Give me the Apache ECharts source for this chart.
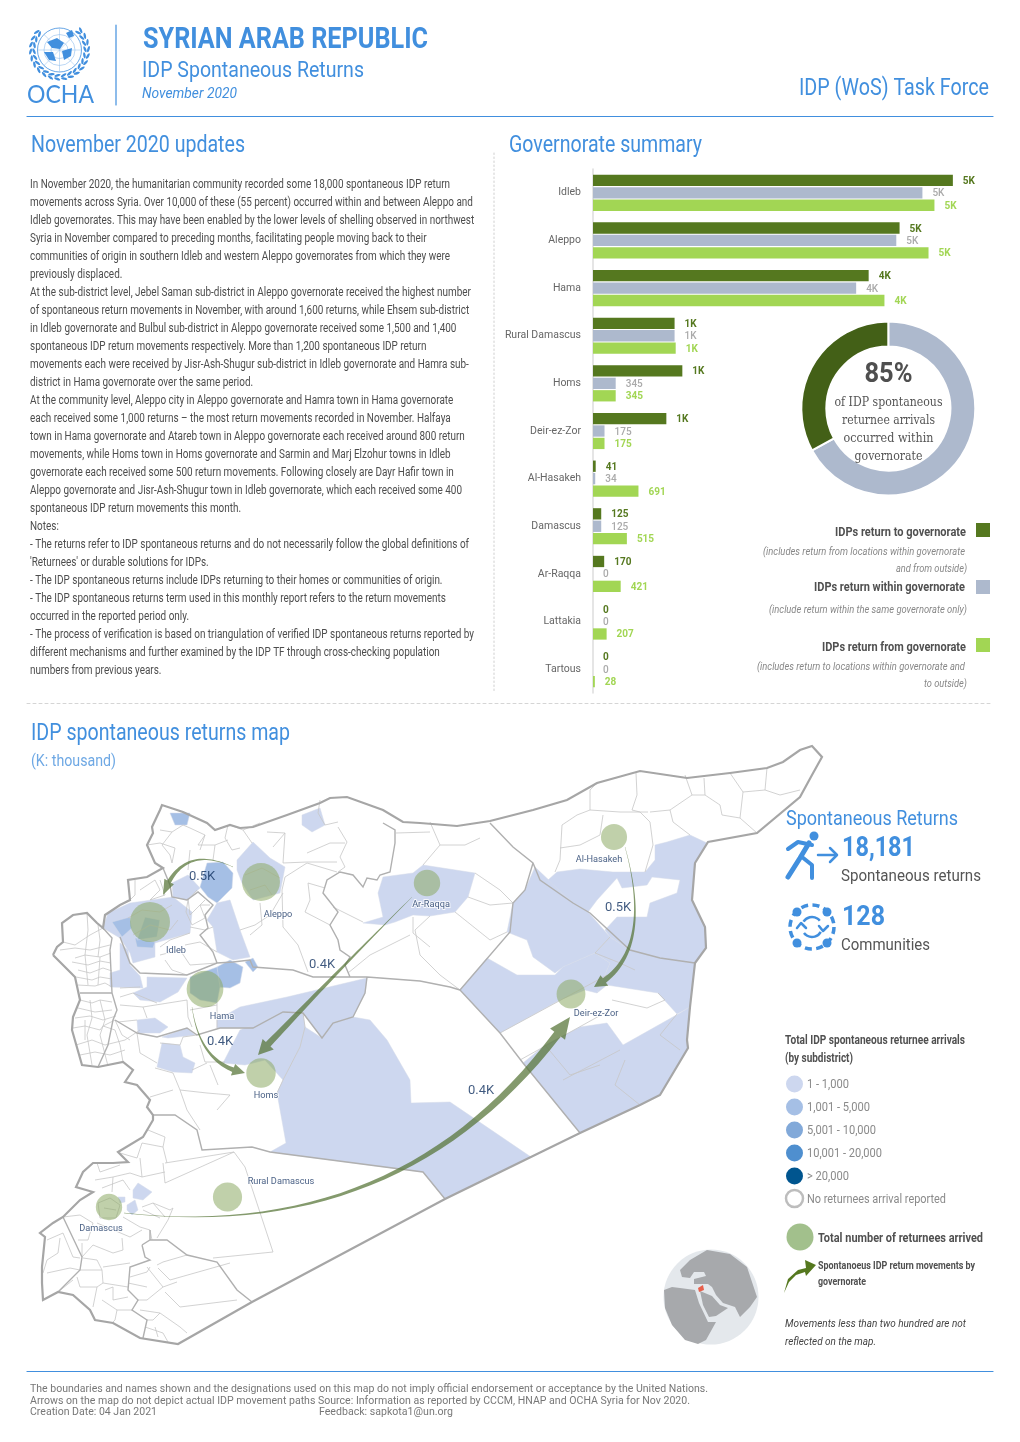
<!DOCTYPE html>
<html>
<head>
<meta charset="utf-8">
<title>IDP Spontaneous Returns</title>
<script src="https://cdn.jsdelivr.net/npm/echarts@6/dist/echarts.min.js"></script>
<style>
html, body { margin: 0; padding: 0; background: #fff; }
#page { width: 1020px; height: 1442px; }
</style>
</head>
<body>
<div id="page"></div>
<script>
// governorate summary
var governorates = ['Idleb', 'Aleppo', 'Hama', 'Rural Damascus', 'Homs', 'Deir-ez-Zor', 'Al-Hasakeh', 'Damascus', 'Ar-Raqqa', 'Lattakia', 'Tartous'];
var returnTo = [5470, 4660, 4190, 1240, 1358, 1115, 41, 125, 170, 0, 0];
var returnWithin = [5007, 4610, 4000, 1240, 345, 175, 34, 125, 0, 0, 0];
var returnFrom = [5190, 5100, 4430, 1257, 345, 175, 691, 515, 421, 207, 28];
var donutValues = [67, 33];

// map units are the pixels of the sheet
var govPoints = {
  'Idleb': [150, 922], 'Aleppo': [261, 882], 'Hama': [205, 989], 'Rural Damascus': [227.5, 1197], 'Homs': [261, 1073],
  'Deir-ez-Zor': [571, 994], 'Al-Hasakeh': [614, 837], 'Damascus': [109, 1207], 'Ar-Raqqa': [427, 883]
};
var govLabelPoints = {
  'Idleb': [176, 951], 'Aleppo': [278, 915], 'Hama': [222, 1017], 'Rural Damascus': [281, 1182], 'Homs': [266, 1096],
  'Deir-ez-Zor': [596, 1014], 'Al-Hasakeh': [599, 860], 'Damascus': [101, 1229], 'Ar-Raqqa': [431, 905]
};
// x0, y0, x1, y1, control x, control y, width at the head
var flowPaths = [
  [233, 867, 163, 895, 182, 843, 5],
  [412, 897, 258, 1055, 331, 978, 7],
  [192, 1007, 245, 1073, 200, 1065, 5.5],
  [625, 847, 594, 987, 655, 955, 6],
  [124, 1213, 570, 1017, 410, 1245, 8.5]
];
var flowValues = ['0.5K', '0.4K', '0.4K', '0.5K', '0.4K'];
var flowLabelPoints = [[202, 877], [322, 965], [220, 1042], [618, 908], [481, 1091]];

var countryOutline = [[53, 955], [57, 947], [63, 942], [62, 923], [73, 915], [87, 913], [97, 923], [103, 928], [105, 915], [120, 905], [130, 900], [128, 880], [147, 877], [163, 868], [155, 863], [147, 845], [153, 833], [152, 827], [160, 810], [162, 805], [183, 812], [207, 823], [215, 830], [230, 825], [240, 828], [253, 827], [287, 815], [320, 803], [330, 798], [347, 797], [383, 810], [403, 822], [420, 823], [457, 826], [490, 821], [533, 810], [567, 800], [597, 783], [640, 771], [687, 778], [730, 773], [767, 768], [783, 762], [800, 750], [812, 746], [822, 757], [812, 775], [800, 797], [757, 833], [708, 842], [695, 863], [692, 900], [705, 927], [706, 948], [695, 963], [690, 1007], [687, 1040], [688, 1048], [660, 1095], [640, 1105], [580, 1133], [445, 1199], [252, 1302], [178, 1344], [140, 1338], [113, 1323], [95, 1320], [90, 1310], [73, 1295], [58, 1292], [43, 1300], [42, 1283], [42, 1267], [45, 1237], [40, 1233], [53, 1223], [63, 1217], [80, 1200], [93, 1192], [76, 1187], [83, 1172], [93, 1163], [113, 1163], [128, 1162], [118, 1152], [143, 1137], [153, 1120], [153, 1115], [147, 1107], [150, 1100], [137, 1085], [125, 1082], [133, 1070], [123, 1062], [98, 1067], [82, 1065], [72, 1030], [73, 1017], [80, 1000], [75, 977], [60, 962], [53, 955]];

// subdistricts that reported arrivals: outline and estimated returns
var subdistrictShapes = [
  [[170, 813], [190, 813], [187, 825], [175, 825]],
  [[302, 815], [320, 808], [325, 825], [312, 832], [302, 825]],
  [[237, 860], [253, 842], [270, 858], [285, 867], [280, 893], [253, 900], [242, 883], [237, 870]],
  [[200, 887], [207, 863], [223, 862], [233, 873], [232, 888], [217, 903], [208, 897]],
  [[172, 883], [188, 875], [200, 888], [190, 897], [187, 900], [173, 897]],
  [[207, 920], [217, 903], [230, 900], [240, 930], [250, 957], [233, 960], [217, 952], [213, 927]],
  [[103, 928], [108, 913], [130, 903], [173, 897], [192, 912], [190, 933], [155, 943], [155, 957], [133, 963], [130, 953], [120, 938]],
  [[112, 922], [130, 917], [132, 928], [122, 937]],
  [[135, 938], [155, 942], [153, 948], [137, 947]],
  [[145, 917], [160, 920], [157, 937], [137, 940]],
  [[120, 943], [128, 950], [130, 965], [140, 976], [143, 988], [110, 987], [110, 973], [120, 970]],
  [[147, 977], [187, 978], [178, 992], [160, 1002], [140, 1000], [133, 993], [147, 987]],
  [[217, 967], [230, 960], [243, 967], [240, 983], [230, 988], [217, 987]],
  [[245, 962], [253, 958], [258, 967], [253, 972]],
  [[190, 977], [217, 967], [220, 987], [217, 1003], [200, 1000], [190, 993]],
  [[137, 1020], [155, 1018], [168, 1027], [160, 1033], [138, 1033]],
  [[162, 1037], [187, 1028], [195, 1035], [168, 1038]],
  [[162, 1043], [180, 1045], [183, 1057], [195, 1063], [192, 1073], [173, 1072], [157, 1067]],
  [[240, 1007], [287, 997], [367, 978], [365, 993], [353, 1017], [333, 1023], [322, 1038], [303, 1013], [283, 1012], [253, 1028], [217, 1028], [217, 1020]],
  [[322, 1038], [333, 1023], [353, 1017], [370, 1020], [387, 1040], [410, 1080], [411, 1103], [450, 1102], [531, 1157], [445, 1199], [423, 1172], [270, 1152], [286, 1143], [277, 1093], [283, 1080], [300, 1047], [305, 1027]],
  [[223, 1063], [240, 1030], [283, 1012], [303, 1013], [305, 1027], [300, 1047], [283, 1080], [265, 1060], [245, 1065]],
  [[363, 923], [383, 917], [378, 893], [383, 877], [413, 873], [423, 865], [475, 873], [468, 897], [455, 912], [430, 916], [413, 915], [395, 922], [385, 925]],
  [[535, 867], [573, 903], [588, 912], [610, 937], [595, 953], [563, 967], [555, 973], [533, 957], [527, 940], [507, 932], [513, 903], [525, 890]],
  [[487, 958], [517, 975], [555, 975], [563, 967], [595, 953], [610, 963], [607, 970], [597, 993], [585, 990], [560, 1000], [500, 1033], [460, 990]],
  [[610, 937], [630, 950], [660, 958], [695, 963], [690, 1007], [677, 1014], [658, 993], [607, 985], [597, 993], [607, 970], [610, 963], [595, 953]],
  [[548, 880], [557, 872], [580, 869], [613, 872], [645, 872], [655, 860], [655, 845], [667, 842], [690, 835], [707, 843], [695, 863], [692, 900], [705, 927], [706, 948], [695, 963], [660, 958], [630, 950], [610, 937], [605, 930], [617, 917], [647, 917], [650, 903], [677, 893], [680, 880], [652, 877], [647, 885], [622, 888], [617, 878], [597, 900], [588, 912], [573, 903]],
  [[680, 1013], [690, 1007], [687, 1040], [688, 1048], [660, 1095], [640, 1105], [580, 1133], [523, 1063], [545, 1045], [580, 1027], [607, 1023], [623, 1045]],
  [[133, 1190], [138, 1183], [152, 1192], [143, 1200], [133, 1198]],
  [[127, 1205], [135, 1200], [138, 1210], [132, 1215], [127, 1210]],
  [[118, 1197], [125, 1197], [125, 1202], [120, 1203]]
];
var subdistrictReturns = [1200, 300, 900, 1400, 500, 800, 700, 1300, 1200, 1600, 600, 500, 1500, 1100, 1700, 300, 200, 400, 700, 500, 350, 150, 400, 300, 250, 350, 200, 150, 120, 130];

var subdistrictLines = [
  // Lattakia and Tartous
  [[75, 958], [85, 955], [100, 957], [111, 953]], [[72, 962], [88, 965], [100, 961], [111, 963]], [[78, 970], [90, 973], [103, 968], [112, 971]],
  [[76, 977], [92, 980], [100, 977], [112, 979]], [[78, 985], [95, 986], [105, 983], [112, 987]], [[80, 1000], [92, 1003], [100, 1000], [112, 1002]],
  [[78, 1008], [95, 1012], [112, 1010]], [[75, 1018], [90, 1016], [103, 1020], [116, 1016]], [[73, 1028], [85, 1026], [100, 1030], [103, 1026], [115, 1030]],
  [[76, 1045], [92, 1040], [105, 1045], [125, 1040]], [[80, 1055], [95, 1052], [110, 1055], [125, 1050]], [[90, 1000], [92, 1018], [87, 1035], [92, 1065]],
  [[100, 1000], [105, 1020], [100, 1035], [108, 1066]], [[85, 1020], [85, 1040]], [[115, 1030], [120, 1045], [123, 1062]], [[103, 1026], [115, 1020], [122, 1035], [130, 1040]],
  [[125, 1040], [140, 1030]], [[63, 942], [75, 945], [90, 935], [103, 928]], [[87, 913], [88, 930], [85, 955]], [[98, 925], [100, 940], [98, 957]], [[60, 950], [75, 948], [90, 950], [110, 945]],
  [[85, 955], [88, 985]], [[100, 957], [98, 985]],
  // north west
  [[160, 830], [172, 832], [183, 825], [190, 828]], [[172, 832], [162, 845], [170, 855], [172, 863]], [[190, 828], [205, 835], [198, 845], [215, 845], [228, 840]],
  [[205, 835], [200, 850]], [[215, 845], [213, 860]], [[228, 825], [225, 838], [232, 850], [240, 848]], [[147, 845], [160, 843], [175, 848], [172, 863]], [[190, 850], [188, 870]],
  [[135, 880], [135, 895], [130, 900]], [[140, 890], [155, 880], [160, 890], [150, 900]], [[150, 900], [165, 895], [160, 880]], [[188, 898], [190, 915], [205, 900]],
  [[197, 890], [188, 900], [186, 912], [192, 925], [205, 918], [200, 905], [210, 905]], [[190, 927], [205, 930], [213, 927]], [[185, 945], [200, 942], [217, 952]],
  [[160, 955], [180, 950], [190, 965], [217, 963]], [[165, 960], [172, 970], [187, 975]], [[128, 918], [142, 910], [160, 912], [172, 905]], [[133, 935], [150, 925], [170, 930], [178, 920]],
  [[160, 947], [170, 940], [190, 933]], [[240, 930], [255, 925], [270, 915], [283, 893]], [[260, 903], [262, 925], [250, 935]], [[245, 875], [262, 868], [280, 878]], [[250, 890], [265, 885], [272, 895]],
  [[230, 825], [243, 830], [260, 823]], [[243, 830], [252, 843]], [[273, 847], [285, 833], [267, 832]], [[285, 833], [283, 863], [307, 862]], [[320, 800], [318, 813], [325, 825], [338, 822]],
  [[338, 827], [347, 842], [340, 857], [345, 867], [338, 872]], [[307, 853], [330, 843], [345, 843]], [[307, 862], [337, 862]], [[285, 877], [307, 863], [337, 872]],
  [[285, 877], [282, 890], [283, 927], [298, 945], [308, 972]], [[308, 883], [310, 900], [305, 912], [330, 925]], [[308, 883], [325, 888]], [[333, 907], [363, 922]], [[396, 833], [430, 832]], [[413, 917], [413, 933], [430, 947]],
  // Hama and Homs west
  [[120, 988], [140, 987]], [[120, 997], [133, 993], [157, 1003]], [[120, 1005], [143, 1007]], [[143, 1007], [187, 1000]], [[187, 1000], [188, 1017], [192, 1027]], [[118, 1022], [137, 1020]],
  [[143, 1007], [147, 1018]], [[217, 1003], [217, 1028]], [[190, 1010], [217, 1005]], [[137, 1033], [140, 1053], [157, 1063]], [[160, 1043], [180, 1045]], [[180, 1045], [183, 1037], [197, 1035]],
  [[192, 1070], [207, 1063]], [[173, 1073], [180, 1090], [207, 1093]], [[155, 1068], [173, 1073]], [[150, 1097], [173, 1090]], [[180, 1090], [187, 1110]], [[207, 1093], [230, 1095], [217, 1110]],
  [[187, 1110], [200, 1130]], [[210, 1065], [218, 1085]], [[200, 1045], [205, 1062], [225, 1062]], [[277, 1093], [283, 1080]],
  // Raqqa, Hasakeh, Deir-ez-Zor
  [[455, 912], [490, 940], [507, 932]], [[430, 916], [415, 930], [420, 955], [440, 975], [460, 990]], [[410, 935], [370, 955], [348, 973]], [[468, 897], [490, 905], [513, 903]],
  [[590, 790], [590, 810], [620, 812], [648, 812]], [[597, 783], [590, 790]], [[590, 810], [577, 815], [562, 825], [560, 860], [555, 872]],
  [[560, 848], [580, 845], [600, 835], [603, 815]], [[636, 773], [637, 795], [632, 810]], [[632, 810], [640, 812], [650, 822], [653, 845], [645, 872]],
  [[650, 812], [670, 810], [692, 795], [685, 775]], [[670, 810], [673, 822], [690, 835]], [[692, 795], [705, 795], [720, 805], [722, 815], [740, 818], [757, 833]],
  [[705, 795], [704, 778]], [[740, 818], [743, 792], [730, 773]], [[743, 792], [765, 790], [780, 795], [800, 790]], [[767, 768], [765, 790]],
  [[610, 937], [595, 953]], [[595, 953], [620, 963], [635, 970]], [[658, 993], [665, 1000], [647, 1008], [612, 1000]], [[500, 1033], [607, 975]], [[520, 1060], [610, 1010]],
  [[563, 1080], [620, 1050]], [[640, 1105], [615, 1085], [625, 1060]], [[677, 1014], [660, 1035], [680, 1050]], [[545, 1045], [570, 1075], [600, 1065]],
  [[423, 865], [440, 845], [430, 822]], [[475, 873], [500, 890], [513, 903]], [[440, 845], [465, 845], [480, 838]], [[303, 1013], [305, 1027], [300, 1047], [283, 1080]],
  // Damascus, Daraa, Sweida
  [[120, 1153], [137, 1158], [142, 1143]], [[142, 1143], [163, 1147], [167, 1163]], [[148, 1130], [165, 1137], [163, 1147]], [[165, 1163], [234, 1152]], [[163, 1163], [165, 1183]],
  [[140, 1158], [142, 1177], [165, 1172]], [[165, 1183], [234, 1152]], [[234, 1152], [245, 1167], [273, 1252]], [[273, 1252], [213, 1258]], [[97, 1163], [100, 1172], [120, 1165]],
  [[95, 1180], [113, 1177], [130, 1173], [142, 1177]], [[102, 1188], [123, 1180], [130, 1190]], [[113, 1177], [112, 1192]], [[142, 1207], [153, 1203], [170, 1210]], [[153, 1203], [165, 1217]],
  [[170, 1210], [173, 1208], [168, 1220], [157, 1238]], [[143, 1210], [160, 1218]], [[123, 1217], [140, 1227], [150, 1230], [152, 1240]], [[63, 1217], [80, 1215], [93, 1223], [88, 1240], [78, 1240]],
  [[97, 1223], [130, 1237], [142, 1230]], [[122, 1238], [123, 1250], [113, 1253], [93, 1245]], [[82, 1243], [82, 1257], [93, 1245]], [[80, 1270], [102, 1270], [103, 1283], [128, 1287]],
  [[83, 1258], [97, 1260], [102, 1270]], [[130, 1263], [103, 1267]], [[47, 1240], [63, 1233], [73, 1257], [80, 1258]], [[60, 1238], [58, 1253], [47, 1260], [43, 1273]],
  [[47, 1273], [70, 1268], [80, 1270]], [[77, 1277], [80, 1287], [97, 1287], [103, 1283]], [[73, 1280], [58, 1292]], [[97, 1287], [93, 1307]], [[102, 1300], [117, 1310], [115, 1320], [112, 1323]],
  [[105, 1290], [113, 1287], [113, 1300], [128, 1297]], [[117, 1310], [132, 1310]], [[130, 1277], [147, 1272], [150, 1267]], [[128, 1283], [147, 1287]], [[147, 1267], [163, 1287], [147, 1300], [138, 1300]],
  [[158, 1268], [170, 1280], [230, 1263]], [[157, 1265], [163, 1262], [187, 1255]], [[163, 1287], [177, 1282]], [[165, 1292], [180, 1307], [237, 1300]], [[140, 1310], [160, 1313], [153, 1320], [147, 1320]],
  [[160, 1313], [180, 1327], [187, 1333]], [[145, 1327], [163, 1333], [168, 1342]], [[155, 1327], [158, 1337]], [[98, 1203], [110, 1198], [120, 1205], [116, 1218], [100, 1218], [98, 1203]], [[104, 1208], [116, 1210]]
];
var governorateLines = [
  [[103, 928], [112, 938], [110, 950], [112, 993], [117, 1010], [113, 1020], [108, 1045], [98, 1067]],
  [[80, 993], [112, 993]],
  [[120, 937], [130, 963], [140, 973], [187, 975], [217, 963], [233, 962], [250, 960], [253, 967], [293, 970], [313, 977], [367, 977], [420, 981], [450, 987], [460, 990]],
  [[163, 868], [170, 885], [172, 897], [187, 900], [198, 892], [213, 905], [205, 915], [208, 928], [200, 935], [213, 952], [217, 963]],
  [[383, 823], [395, 830], [395, 843], [390, 872], [380, 875], [377, 880], [367, 878], [363, 887], [353, 875], [340, 872], [327, 880], [323, 893], [338, 912], [330, 925], [338, 940], [340, 950], [350, 957], [345, 965], [350, 977]],
  [[490, 823], [513, 847], [533, 863], [540, 880], [573, 903], [590, 913], [630, 950], [660, 958], [695, 963]],
  [[533, 863], [525, 890], [513, 903], [510, 932], [460, 990], [500, 1033], [523, 1063], [580, 1133]],
  [[367, 977], [365, 993], [353, 1017], [333, 1023], [322, 1038], [303, 1013], [283, 1012], [253, 1028], [220, 1028], [197, 1035], [187, 1028], [157, 1037], [137, 1033], [115, 1020]],
  [[445, 1199], [423, 1172], [270, 1152], [252, 1147], [202, 1150], [197, 1130], [175, 1115], [153, 1115]],
  [[142, 1245], [145, 1257], [150, 1260], [130, 1267], [128, 1290], [138, 1300], [132, 1310], [147, 1320], [143, 1338]],
  [[142, 1245], [150, 1240], [167, 1240], [187, 1255], [217, 1262], [237, 1290], [252, 1302]],
  [[150, 1230], [150, 1240]], [[63, 1217], [82, 1257], [80, 1270], [58, 1292]]
];

// legend tiers
var tierLabels = ['1 - 1,000', '1,001 - 5,000', '5,001 - 10,000', '10,001 - 20,000', '> 20,000', 'No returnees arrival reported'];
var tierColors = ['#cdd7ef', '#a5bfe5', '#82a9d9', '#4f8fcf', '#00558f', '#ffffff'];

var updateLines = [
  'In November 2020, the humanitarian community recorded some 18,000 spontaneous IDP return',
  'movements across Syria. Over 10,000 of these (55 percent) occurred within and between Aleppo and',
  'Idleb governorates. This may have been enabled by the lower levels of shelling observed in northwest',
  'Syria in November compared to preceding months, facilitating people moving back to their',
  'communities of origin in southern Idleb and western Aleppo governorates from which they were',
  'previously displaced.',
  'At the sub-district level, Jebel Saman sub-district in Aleppo governorate received the highest number',
  'of spontaneous return movements in November, with around 1,600 returns, while Ehsem sub-district',
  'in Idleb governorate and Bulbul sub-district in Aleppo governorate received some 1,500 and 1,400',
  'spontaneous IDP return movements respectively. More than 1,200 spontaneous IDP return',
  'movements each were received by Jisr-Ash-Shugur sub-district in Idleb governorate and Hamra sub-',
  'district in Hama governorate over the same period.',
  'At the community level, Aleppo city in Aleppo governorate and Hamra town in Hama governorate',
  'each received some 1,000 returns \u2013 the most return movements recorded in November. Halfaya',
  'town in Hama governorate and Atareb town in Aleppo governorate each received around 800 return',
  'movements, while Homs town in Homs governorate and Sarmin and Marj Elzohur towns in Idleb',
  'governorate each received some 500 return movements. Following closely are Dayr Hafir town in',
  'Aleppo governorate and Jisr-Ash-Shugur town in Idleb governorate, which each received some 400',
  'spontaneous IDP return movements this month.',
  'Notes:',
  '- The returns refer to IDP spontaneous returns and do not necessarily follow the global definitions of',
  "'Returnees' or durable solutions for IDPs.",
  '- The IDP spontaneous returns include IDPs returning to their homes or communities of origin.',
  '- The IDP spontaneous returns term used in this monthly report refers to the return movements',
  'occurred in the reported period only.',
  '- The process of verification is based on triangulation of verified IDP spontaneous returns reported by',
  'different mechanisms and further examined by the IDP TF through cross-checking population',
  'numbers from previous years.'
];

var BLUE = '#418fde';
var DARK = '#55781f';
var GREY = '#adb9cd';
var LIGHT = '#a2d654';
var measure = document.createElement('canvas').getContext('2d');

function text(str, x, y, size, color, opt) {
  opt = opt || {};
  var font = (opt.style || 'normal') + ' ' + (opt.weight || 'normal') + ' ' + size + 'px ' + (opt.family || 'Roboto');
  var scale = opt.scale || 1;
  if (opt.w) {
    measure.font = font;
    scale = opt.w / measure.measureText(str).width;
  }
  return {
    type: 'text', x: x, y: y + 0.3 + size * 0.055, scaleX: scale, silent: true, z: 20,
    style: { text: str, font: font, fill: color, align: opt.align || 'left', verticalAlign: 'middle' }
  };
}
function line(points, color, width, dash) {
  return {
    type: 'polyline', silent: true, z: 20, shape: { points: points },
    style: { stroke: color, lineWidth: width, fill: null, lineDash: dash || null, lineCap: 'round', lineJoin: 'round' }
  };
}
function circle(x, y, r, fill, stroke, width, dash) {
  return {
    type: 'circle', silent: true, z: 20, shape: { cx: x, cy: y, r: r },
    style: { fill: fill || null, stroke: stroke || null, lineWidth: width || 0, lineDash: dash || null }
  };
}
function arc(x, y, r, a0, a1, color, width) {
  return {
    type: 'arc', silent: true, z: 20, shape: { cx: x, cy: y, r: r, startAngle: a0, endAngle: a1, clockwise: true },
    style: { stroke: color, lineWidth: width, fill: null }
  };
}
function poly(points, fill) {
  return { type: 'polygon', silent: true, z: 20, shape: { points: points }, style: { fill: fill } };
}
function leaf(x, y, angle) {
  return {
    type: 'ellipse', silent: true, z: 20, x: x, y: y, rotation: -angle,
    shape: { cx: 0, cy: 0, rx: 3.2, ry: 1.2 }, style: { fill: BLUE }
  };
}

function buildGraphic() {
  var g = [];
  // logo
  g.push(circle(59.5, 50, 22, null, BLUE, 0.8));
  g.push(circle(59.5, 50, 15.5, null, '#8fbcec', 0.6));
  g.push(circle(59.5, 50, 8.5, null, '#8fbcec', 0.6));
  g.push(line([[37.5, 50], [81.5, 50]], '#8fbcec', 0.5));
  g.push(line([[59.5, 28], [59.5, 72]], '#8fbcec', 0.5));
  g.push(line([[44, 34.5], [75, 65.5]], '#8fbcec', 0.5));
  g.push(line([[75, 34.5], [44, 65.5]], '#8fbcec', 0.5));
  g.push(poly([[47, 42], [57, 38], [64, 43], [60, 49], [52, 48]], BLUE));
  g.push(poly([[44, 52], [53, 52], [56, 61], [49, 60]], BLUE));
  g.push(poly([[62, 51], [72, 48], [71, 56], [64, 60]], BLUE));
  g.push(poly([[66, 33], [72, 30], [74, 36], [69, 38]], BLUE));
  // wreath leaves, open at the top
  for (var a = -0.75; a < 3.95; a += 0.24) {
    g.push(leaf(59.5 + 25.5 * Math.cos(a), 50 + 25.5 * Math.sin(a), a + 1.2));
    g.push(leaf(59.5 + 29 * Math.cos(a), 50 + 29 * Math.sin(a), a + 1.9));
  }
  g.push(text('OCHA', 60.5, 93, 25, BLUE, { align: 'center', w: 67, family: 'Lato' }));
  g.push(line([[116, 25], [116, 105]], BLUE, 1.2));
  g.push(line([[27, 116.5], [993, 116.5]], BLUE, 1.2));

  // header
  g.push(text('SYRIAN ARAB REPUBLIC', 143, 39, 30, BLUE, { weight: 'bold', w: 285 }));
  g.push(text('IDP Spontaneous Returns', 142, 70, 22, BLUE, { w: 222 }));
  g.push(text('November 2020', 142, 93, 14, BLUE, { style: 'italic', w: 95 }));
  g.push(text('IDP (WoS) Task Force', 989, 88, 23, BLUE, { align: 'right', w: 190 }));

  // section headings
  g.push(text('November 2020 updates', 31, 145, 23, BLUE, { w: 214 }));
  g.push(text('Governorate summary', 509, 145, 23, BLUE, { w: 193 }));
  g.push(text('IDP spontaneous returns map', 31, 733, 23, BLUE, { w: 259 }));
  g.push(text('(K: thousand)', 31, 761, 16, '#6ea8e4', { w: 85 }));
  g.push(line([[494, 153], [494, 692]], '#cfcfcf', 1, [1.5, 2.5]));
  g.push(line([[27, 703.5], [993, 703.5]], '#d5d5d5', 1, [3, 3]));

  // updates text
  measure.font = '12px Roboto';
  var bodyScale = 420 / measure.measureText(updateLines[0]).width;
  updateLines.forEach(function (s, i) {
    g.push(text(s, 30, 183.7 + i * 18.03, 12, '#4d4d4d', { scale: bodyScale }));
  });

  // donut text
  g.push(text('85%', 888.5, 373.5, 28, '#4f4f4f', { align: 'center', weight: 'bold', w: 48 }));
  ['of IDP spontaneous', 'returnee arrivals', 'occurred within', 'governorate'].forEach(function (s, i) {
    var widths = [108, 93, 90, 68];
    g.push(text(s, 888.5, 402 + i * 18, 13, '#555', { align: 'center', family: 'DejaVu Serif', w: widths[i] }));
  });

  // bar legend
  g.push(text('IDPs return to governorate', 966, 532, 13, '#505050', { align: 'right', weight: 'bold', w: 131 }));
  g.push(text('(includes return from locations within governorate', 965, 551, 11, '#888', { align: 'right', style: 'italic', w: 202 }));
  g.push(text('and from outside)', 967, 568, 11, '#888', { align: 'right', style: 'italic', w: 71 }));
  g.push(text('IDPs return within governorate', 965, 587, 13, '#505050', { align: 'right', weight: 'bold', w: 151 }));
  g.push(text('(include return within the same governorate only)', 967, 609, 11, '#888', { align: 'right', style: 'italic', w: 198 }));
  g.push(text('IDPs return from governorate', 966, 647, 13, '#505050', { align: 'right', weight: 'bold', w: 144 }));
  g.push(text('(includes return to locations within governorate and', 965, 666, 11, '#888', { align: 'right', style: 'italic', w: 208 }));
  g.push(text('to outside)', 967, 683, 11, '#888', { align: 'right', style: 'italic', w: 43 }));
  g.push({ type: 'rect', silent: true, z: 20, shape: { x: 976, y: 523, width: 14, height: 14 }, style: { fill: DARK } });
  g.push({ type: 'rect', silent: true, z: 20, shape: { x: 976, y: 580, width: 14, height: 14 }, style: { fill: GREY } });
  g.push({ type: 'rect', silent: true, z: 20, shape: { x: 976, y: 638, width: 14, height: 14 }, style: { fill: LIGHT } });

  // key figures
  g.push(text('Spontaneous Returns', 786, 818.5, 20, BLUE, { w: 172 }));
  g.push(circle(814, 836, 4.5, BLUE));
  g.push(line([[788, 849], [798, 842], [812, 845]], BLUE, 4));
  g.push(line([[809, 843], [800, 858], [788, 877]], BLUE, 5));
  g.push(line([[802, 857], [812, 865], [812, 878]], BLUE, 4));
  g.push(line([[818, 855], [836, 855]], BLUE, 2.5));
  g.push(line([[830, 848], [837, 855], [830, 862]], BLUE, 2.5));
  g.push(text('18,181', 842, 847.5, 28, BLUE, { weight: 'bold', w: 73 }));
  g.push(text('Spontaneous returns', 841, 876, 16, '#555', { w: 140 }));
  g.push(circle(812, 927, 22, null, BLUE, 3.5, [7, 4.5]));
  g.push(circle(797, 912, 4.5, BLUE));
  g.push(circle(827, 912, 4.5, BLUE));
  g.push(circle(797, 943, 4.5, BLUE));
  g.push(circle(827, 943, 4.5, BLUE));
  g.push(arc(812, 927, 10, 3.7, 5.6, BLUE, 2.5));
  g.push(line([[819, 926], [823, 931], [828, 926]], BLUE, 2.5));
  g.push(arc(812, 927, 10, 0.5, 2.5, BLUE, 2.5));
  g.push(line([[797, 928], [801, 923], [806, 928]], BLUE, 2.5));
  g.push(text('128', 842, 916, 28, BLUE, { weight: 'bold', w: 43 }));
  g.push(text('Communities', 841, 945, 16, '#555', { w: 89 }));

  // map legend
  g.push(text('Total IDP spontaneous returnee arrivals', 785, 1040, 12, '#505050', { weight: 'bold', w: 180 }));
  g.push(text('(by subdistrict)', 785, 1058, 12, '#505050', { weight: 'bold', w: 68 }));
  var tierW = [42, 63, 69, 75, 42, 139];
  tierLabels.forEach(function (s, i) {
    var y = 1084 + i * 23;
    if (i === 5) {
      g.push(circle(794.5, y - 0.5, 8.5, '#fff', '#bdbdbd', 2.5));
    } else {
      g.push(circle(794.5, y, 8.5, tierColors[i]));
    }
    g.push(text(s, 807, y, 12.5, '#8a8a8a', { w: tierW[i] }));
  });
  g.push(circle(800, 1237, 13.5, '#a2c08c'));
  g.push(text('Total number of returnees arrived', 818, 1238, 13, '#505050', { weight: 'bold', w: 165 }));
  g.push(poly([[784, 1293], [788, 1279], [798, 1270], [806, 1268], [805, 1260], [816, 1265], [806, 1276], [805, 1272], [796, 1275], [789, 1282]], '#55781f'));
  g.push(text('Spontanoeus IDP return movements by', 818, 1265, 10.5, '#505050', { weight: 'bold', w: 157 }));
  g.push(text('governorate', 818, 1281, 10.5, '#505050', { weight: 'bold', w: 48 }));
  g.push(text('Movements less than two hundred are not', 785, 1323, 11.5, '#444', { style: 'italic', w: 181 }));
  g.push(text('reflected on the map.', 785, 1341, 11.5, '#444', { style: 'italic', w: 91 }));

  // locator globe
  g.push(circle(711, 1297, 47.5, '#e4e8ec'));
  g.push(poly([[664, 1290], [672, 1287], [680, 1288], [695, 1290], [699, 1303], [708, 1322], [716, 1322], [706, 1340], [698, 1344], [685, 1340], [672, 1325], [665, 1308]], '#a7a9ac'));
  g.push(poly([[700, 1291], [712, 1296], [720, 1305], [728, 1308], [716, 1316], [709, 1317], [703, 1305]], '#a7a9ac'));
  g.push(poly([[680, 1270], [690, 1260], [707, 1250], [730, 1254], [747, 1267], [757, 1297], [750, 1307], [740, 1317], [735, 1307], [723, 1303], [716, 1295], [712, 1287], [708, 1284], [694, 1284], [694, 1279], [706, 1276], [704, 1272], [694, 1272], [690, 1278], [682, 1277]], '#a7a9ac'));
  g.push(poly([[698, 1288], [703, 1285], [704, 1290], [699, 1292]], '#e8604c'));

  // footer
  g.push(line([[27, 1371.5], [993, 1371.5]], BLUE, 1.2));
  g.push(text('The boundaries and names shown and the designations used on this map do not imply official endorsement or acceptance by the United Nations.', 30, 1388, 10.5, '#777', { w: 678 }));
  g.push(text('Arrows on the map do not depict actual IDP movement paths Source: Information as reported by CCCM, HNAP and OCHA Syria for Nov 2020.', 30, 1400, 10.5, '#777', { w: 660 }));
  g.push(text('Creation Date: 04 Jan 2021', 30, 1411, 10.5, '#777', { w: 127 }));
  g.push(text('Feedback: sapkota1@un.org', 319, 1411, 10.5, '#777', { w: 134 }));
  return g;
}

function tierColor(v) {
  if (v > 20000) return tierColors[4];
  if (v > 10000) return tierColors[3];
  if (v > 5000) return tierColors[2];
  if (v > 1000) return tierColors[1];
  return tierColors[0];
}

function feature(name, type, coordinates) {
  return { type: 'Feature', properties: { name: name }, geometry: { type: type, coordinates: coordinates } };
}

function buildMap() {
  var features = [feature('country', 'Polygon', [countryOutline])];
  var regions = [{ name: 'country', itemStyle: { areaColor: '#fff', borderWidth: 0 } }];
  subdistrictShapes.forEach(function (shape, i) {
    var name = 'sd' + i;
    features.push(feature(name, 'Polygon', [shape.concat([shape[0]])]));
    regions.push({ name: name, itemStyle: { areaColor: tierColor(subdistrictReturns[i]), borderColor: '#d4dbe8', borderWidth: 0.5 } });
  });
  features.push(feature('thin', 'MultiLineString', subdistrictLines));
  regions.push({ name: 'thin', itemStyle: { borderColor: '#c6c6c6', borderWidth: 0.8 } });
  features.push(feature('gov', 'MultiLineString', governorateLines));
  regions.push({ name: 'gov', itemStyle: { borderColor: '#b0b0b0', borderWidth: 1.4 } });
  features.push(feature('edge', 'LineString', countryOutline));
  regions.push({ name: 'edge', itemStyle: { borderColor: '#a6a6a6', borderWidth: 2.2 } });
  echarts.registerMap('syria', { type: 'FeatureCollection', features: features });
  return regions;
}

// tapered curved arrow along a quadratic curve
function renderFlow(params, api) {
  var p0 = api.coord([api.value(0), api.value(1)]);
  var p1 = api.coord([api.value(2), api.value(3)]);
  var c = api.coord([api.value(4), api.value(5)]);
  var maxW = api.value(6);
  var len = Math.hypot(p1[0] - p0[0], p1[1] - p0[1]) + 1;
  var tEnd = 1 - (maxW * 2.2) / len;
  var left = [];
  var right = [];
  var n = 30;
  var headL, headR;
  for (var i = 0; i <= n; i++) {
    var t = tEnd * i / n;
    var u = 1 - t;
    var x = u * u * p0[0] + 2 * u * t * c[0] + t * t * p1[0];
    var y = u * u * p0[1] + 2 * u * t * c[1] + t * t * p1[1];
    var dx = 2 * u * (c[0] - p0[0]) + 2 * t * (p1[0] - c[0]);
    var dy = 2 * u * (c[1] - p0[1]) + 2 * t * (p1[1] - c[1]);
    var d = Math.hypot(dx, dy) || 1;
    var w = (0.3 + (maxW - 0.3) * Math.pow(t, 1.3)) / 2;
    left.push([x - dy / d * w, y + dx / d * w]);
    right.push([x + dy / d * w, y - dx / d * w]);
    if (i === n) {
      headL = [x - dy / d * maxW * 1.1, y + dx / d * maxW * 1.1];
      headR = [x + dy / d * maxW * 1.1, y - dx / d * maxW * 1.1];
    }
  }
  return {
    type: 'polygon',
    shape: { points: left.concat([headL, p1, headR], right.reverse()) },
    style: { fill: 'rgba(84,115,52,0.72)' }
  };
}

function barLabel(color, weight) {
  return {
    show: true, position: 'right', distance: 10, offset: [0, 1], color: color, fontFamily: 'Roboto', fontSize: 10, fontWeight: weight,
    formatter: function (p) {
      return p.value >= 1000 ? Math.round(p.value / 1000) + 'K' : p.value;
    }
  };
}

var mapRegions = buildMap();
var mapped = governorates.filter(function (name) { return govPoints[name]; });

var option = {
  animation: false,
  backgroundColor: '#fff',
  grid: { left: 593, top: 169, width: 400, height: 524 },
  xAxis: { type: 'value', min: 0, max: 6080, show: false },
  yAxis: {
    type: 'category', inverse: true, data: governorates,
    axisLine: { lineStyle: { color: '#dcdcdc', width: 1.5 } },
    axisTick: { length: 4, lineStyle: { color: '#dcdcdc' } },
    axisLabel: { color: '#666', fontFamily: 'Roboto', fontSize: 10.5, margin: 12 }
  },
  geo: {
    map: 'syria', silent: true, roam: false, left: 0, top: 0, width: 1020, height: 1442,
    boundingCoords: [[0, 0], [1020, 1442]],
    projection: {
      project: function (p) { return p; },
      unproject: function (p) { return p; }
    },
    label: { show: false },
    itemStyle: { areaColor: 'transparent', borderColor: '#c6c6c6', borderWidth: 0.8 },
    regions: mapRegions
  },
  graphic: { elements: buildGraphic() },
  series: [
    { name: 'IDPs return to governorate', type: 'bar', data: returnTo, barWidth: 11.3, barGap: '10%', itemStyle: { color: DARK }, label: barLabel(DARK, 'bold'), silent: true },
    { name: 'IDPs return within governorate', type: 'bar', data: returnWithin, barWidth: 11.3, barGap: '10%', itemStyle: { color: GREY }, label: barLabel('#aaa', 500), silent: true },
    { name: 'IDPs return from governorate', type: 'bar', data: returnFrom, barWidth: 11.3, barGap: '10%', itemStyle: { color: LIGHT }, label: barLabel(LIGHT, 'bold'), silent: true },
    {
      type: 'pie', center: [888.3, 408.5], radius: [62, 87], startAngle: 90, silent: true,
      label: { show: false }, labelLine: { show: false },
      itemStyle: { borderColor: '#fff', borderWidth: 2 },
      data: [
        { value: donutValues[0], name: 'outside', itemStyle: { color: GREY } },
        { value: donutValues[1], name: 'within', itemStyle: { color: '#436017' } }
      ]
    },
    {
      type: 'scatter', coordinateSystem: 'geo', geoIndex: 0, silent: true, z: 3,
      itemStyle: { color: 'rgb(140,170,100)', opacity: 0.55 },
      symbolSize: function (val) { return 26 + 14 * val[2] / 5470; },
      data: mapped.map(function (name) {
        return { name: name, value: govPoints[name].concat(returnTo[governorates.indexOf(name)]) };
      })
    },
    {
      type: 'scatter', coordinateSystem: 'geo', geoIndex: 0, silent: true, z: 5, symbolSize: 0,
      label: { show: true, position: 'inside', formatter: '{b}', color: '#1a3765', fontFamily: 'Roboto', fontSize: 9.2, textBorderColor: '#fff', textBorderWidth: 2 },
      data: mapped.map(function (name) { return { name: name, value: govLabelPoints[name] }; })
    },
    { type: 'custom', coordinateSystem: 'geo', geoIndex: 0, silent: true, z: 4, renderItem: renderFlow, data: flowPaths },
    {
      type: 'scatter', coordinateSystem: 'geo', geoIndex: 0, silent: true, z: 5, symbolSize: 0,
      label: { show: true, position: 'inside', formatter: '{b}', color: '#0f2f5f', fontFamily: 'Roboto', fontSize: 13 },
      data: flowLabelPoints.map(function (p, i) { return { name: flowValues[i], value: p }; })
    }
  ]
};

var chart = echarts.init(document.getElementById('page'));
chart.setOption(option);
window.addEventListener('resize', function () {
  chart.resize();
});
</script>
</body>
</html>
